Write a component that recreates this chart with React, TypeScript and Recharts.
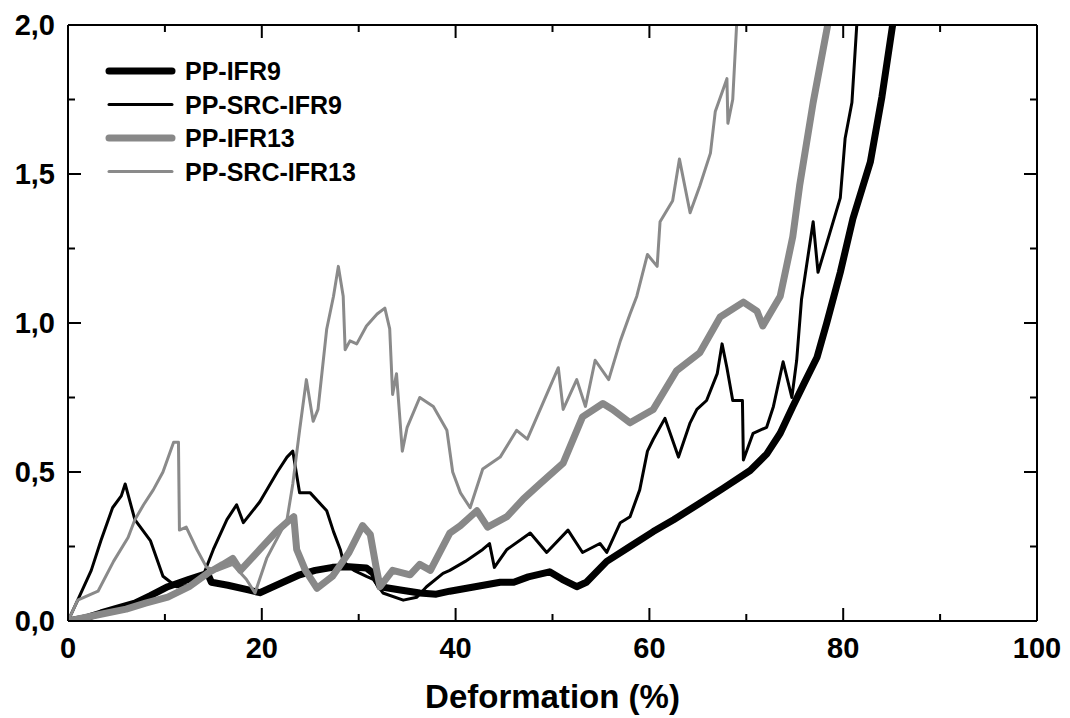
import { Line, LineChart, XAxis, YAxis } from 'recharts';

// values: [deformation %, y]
const ppIfr9: [number, number][] = [
  [0, 0], [2, 0.012], [3.4, 0.027], [5, 0.042], [6.9, 0.06], [8.5, 0.085], [10.3, 0.115],
  [12.5, 0.14], [14.4, 0.16], [14.8, 0.13], [16.5, 0.12], [18.5, 0.105], [19.8, 0.095],
  [21.5, 0.12], [23.9, 0.155], [25.5, 0.17], [27.3, 0.18], [29, 0.182], [30.8, 0.178],
  [31.5, 0.16], [32.2, 0.115], [33.5, 0.108], [34.3, 0.104], [36.3, 0.094], [38, 0.09],
  [39.4, 0.1], [42, 0.115], [44.6, 0.13], [46, 0.13], [47.5, 0.148], [49.7, 0.165],
  [51, 0.14], [52.5, 0.115], [53.5, 0.13], [55.6, 0.2], [58, 0.25], [60.4, 0.3],
  [62.5, 0.34], [65.2, 0.395], [67.6, 0.445], [70.4, 0.505], [72.1, 0.56], [73.5, 0.63],
  [74.8, 0.72], [76, 0.8], [77.3, 0.885], [78.3, 1.0], [79.7, 1.17], [81, 1.35],
  [82.8, 1.54], [84, 1.76], [85.1, 2.0],
];

const ppSrcIfr9: [number, number][] = [
  [0, 0], [1, 0.07], [2.4, 0.17], [3.4, 0.27], [4.6, 0.38], [5.5, 0.42], [5.9, 0.46],
  [6.9, 0.34], [8.5, 0.27], [9.8, 0.15], [11.2, 0.115], [12.5, 0.12], [13.8, 0.14],
  [15, 0.24], [16.4, 0.34], [17.4, 0.39], [18.1, 0.33], [19.8, 0.4], [21.6, 0.5],
  [22.6, 0.55], [23.2, 0.57], [23.9, 0.43], [25, 0.43], [26.7, 0.37], [27.4, 0.3],
  [28.1, 0.24], [28.4, 0.2], [29.5, 0.17], [30.8, 0.15], [31.5, 0.14], [32.5, 0.094],
  [34.6, 0.07], [36, 0.08], [37, 0.115], [38.7, 0.16], [39.4, 0.17], [41, 0.2],
  [42.8, 0.24], [43.5, 0.26], [44, 0.18], [45.3, 0.24], [47.7, 0.295], [49.4, 0.23],
  [51.6, 0.305], [53.1, 0.23], [54.9, 0.26], [55.6, 0.23], [57, 0.33], [58, 0.35],
  [59, 0.44], [59.8, 0.57], [60.4, 0.61], [61.6, 0.68], [63, 0.55], [64.2, 0.665],
  [64.9, 0.71], [65.9, 0.74], [67, 0.83], [67.5, 0.93], [68, 0.85], [68.6, 0.74],
  [69.6, 0.74], [69.7, 0.54], [70.7, 0.63], [72.1, 0.65], [72.8, 0.72], [73.8, 0.87],
  [74.7, 0.75], [75.2, 0.875], [75.7, 1.08], [76.9, 1.34], [77.4, 1.17], [78.6, 1.3],
  [79.7, 1.42], [80.2, 1.62], [80.9, 1.74], [81.4, 2.0],
];

const ppIfr13: [number, number][] = [
  [0, 0], [3, 0.02], [6, 0.04], [8, 0.06], [10.3, 0.08], [12.5, 0.115], [14.4, 0.16],
  [16, 0.19], [17, 0.21], [17.8, 0.17], [19.8, 0.24], [21.5, 0.3], [22.9, 0.34],
  [23.3, 0.35], [23.6, 0.24], [24.5, 0.17], [25.7, 0.11], [27.3, 0.15], [29, 0.23],
  [30.4, 0.32], [31.2, 0.29], [31.8, 0.18], [32.2, 0.115], [33.5, 0.17], [35.3, 0.155],
  [36.3, 0.19], [37.4, 0.17], [39.4, 0.295], [40.5, 0.32], [42.2, 0.37], [43.3, 0.315],
  [45.3, 0.35], [47, 0.41], [48.7, 0.46], [51.1, 0.53], [53.1, 0.685], [55.2, 0.73],
  [56.2, 0.71], [58, 0.665], [60.4, 0.71], [62.8, 0.84], [65.2, 0.9], [67.3, 1.02],
  [69.7, 1.07], [71.1, 1.04], [71.7, 0.99], [73.5, 1.09], [74.8, 1.29], [75.5, 1.46],
  [76.9, 1.74], [78.4, 2.0],
];

const ppSrcIfr13: [number, number][] = [
  [0, 0], [1, 0.07], [3.1, 0.1], [4.7, 0.2], [6.2, 0.28], [6.9, 0.34], [7.8, 0.39],
  [8.8, 0.44], [9.8, 0.5], [10.9, 0.6], [11.4, 0.6], [11.5, 0.305], [12.2, 0.315],
  [13.3, 0.24], [14.3, 0.18], [15.4, 0.17], [17, 0.19], [18.4, 0.14], [19.3, 0.094],
  [20.5, 0.21], [22.6, 0.34], [23.2, 0.46], [23.9, 0.64], [24.6, 0.81], [25, 0.73],
  [25.3, 0.67], [25.8, 0.71], [26.7, 0.98], [27.4, 1.09], [27.9, 1.19], [28.4, 1.09],
  [28.6, 0.91], [29.1, 0.94], [29.8, 0.93], [30.8, 0.99], [31.9, 1.03], [32.7, 1.05],
  [33.2, 0.98], [33.5, 0.76], [33.9, 0.83], [34.5, 0.57], [35, 0.65], [36.3, 0.75],
  [37.7, 0.72], [39.1, 0.64], [39.7, 0.5], [40.5, 0.43], [41.5, 0.38], [42.8, 0.51],
  [44.6, 0.55], [46.3, 0.64], [47.4, 0.61], [49, 0.73], [50.6, 0.85], [51.1, 0.71],
  [52.5, 0.81], [53.4, 0.72], [54.4, 0.875], [55.8, 0.81], [57, 0.94], [58, 1.03],
  [58.7, 1.09], [59.8, 1.23], [60.8, 1.19], [61.1, 1.34], [62.4, 1.41], [63.1, 1.55],
  [64.2, 1.37], [65.2, 1.46], [66.3, 1.57], [66.8, 1.71], [68, 1.82], [68.1, 1.67],
  [68.6, 1.75], [69, 2.0],
];

const xTicks = [0, 10, 20, 30, 40, 50, 60, 70, 80, 90, 100];
const yTicks = [0, 0.25, 0.5, 0.75, 1, 1.25, 1.5, 1.75, 2];

const series = [
  { name: 'PP-IFR9', points: ppIfr9, color: '#000000', width: 7 },
  { name: 'PP-SRC-IFR9', points: ppSrcIfr9, color: '#000000', width: 3 },
  { name: 'PP-IFR13', points: ppIfr13, color: '#888888', width: 7 },
  { name: 'PP-SRC-IFR13', points: ppSrcIfr13, color: '#8a8a8a', width: 3 },
];

const FONT = '"Liberation Sans", Arial, Helvetica, sans-serif';
const isMajorX = (v: number) => v % 20 === 0;
const isMajorY = (v: number) => Math.abs(v * 2 - Math.round(v * 2)) < 1e-6;

const BottomTick = ({ x, y, payload }: any) => {
  const major = isMajorX(payload.value);
  return (
    <g>
      <line x1={x} y1={y} x2={x} y2={y - (major ? 13 : 7)} stroke="#000" strokeWidth={2} />
      {major && (
        <text x={x} y={y + 37} textAnchor="middle" fontFamily={FONT} fontWeight="bold" fontSize={29} fill="#000">
          {payload.value}
        </text>
      )}
    </g>
  );
};

const TopTick = ({ x, y, payload }: any) => {
  const major = isMajorX(payload.value);
  return <line x1={x} y1={y} x2={x} y2={y + (major ? 13 : 7)} stroke="#000" strokeWidth={2} />;
};

const LeftTick = ({ x, y, payload }: any) => {
  const major = isMajorY(payload.value);
  return (
    <g>
      <line x1={x} y1={y} x2={x + (major ? 13 : 7)} y2={y} stroke="#000" strokeWidth={2} />
      {major && (
        <text x={x - 13} y={y + 10} textAnchor="end" fontFamily={FONT} fontWeight="bold" fontSize={29} fill="#000">
          {payload.value.toFixed(1).replace('.', ',')}
        </text>
      )}
    </g>
  );
};

const RightTick = ({ x, y, payload }: any) => {
  const major = isMajorY(payload.value);
  return <line x1={x} y1={y} x2={x - (major ? 13 : 7)} y2={y} stroke="#000" strokeWidth={2} />;
};

function ChartLegend() {
  return (
    <svg width={300} height={150} style={{ position: 'absolute', left: 100, top: 50 }}>
      {series.map((s, i) => (
        <g key={s.name}>
          <line x1={9} x2={72} y1={21 + i * 33.5} y2={21 + i * 33.5} stroke={s.color} strokeWidth={s.width} strokeLinecap="round" />
          <text x={85} y={30 + i * 33.5} fontFamily={FONT} fontWeight="bold" fontSize={25} fill="#000">
            {s.name}
          </text>
        </g>
      ))}
    </svg>
  );
}

export default function App() {
  return (
    <div style={{ position: 'absolute', left: 0, top: 0, width: 1070, height: 718, background: '#fff' }}>
      <LineChart width={1070} height={718} margin={{ top: 20, right: 28, bottom: 7, left: 8 }}>
        <XAxis
          xAxisId={0}
          type="number"
          dataKey="x"
          domain={[0, 100]}
          ticks={xTicks}
          tickSize={0}
          tickMargin={0}
          height={90}
          axisLine={{ stroke: '#000', strokeWidth: 2 }}
          tickLine={false}
          tick={<BottomTick />}
          interval={0}
          allowDataOverflow
          label={{
            value: 'Deformation (%)',
            position: 'insideBottom',
            offset: 3,
            style: { fontFamily: FONT, fontWeight: 'bold', fontSize: 33, fill: '#000' },
          }}
        />
        <XAxis
          xAxisId="top"
          orientation="top"
          type="number"
          dataKey="x"
          domain={[0, 100]}
          ticks={xTicks}
          tickSize={0}
          tickMargin={0}
          height={5}
          axisLine={{ stroke: '#000', strokeWidth: 2 }}
          tickLine={false}
          tick={<TopTick />}
          interval={0}
          allowDataOverflow
        />
        <YAxis
          yAxisId={0}
          type="number"
          domain={[0, 2]}
          ticks={yTicks}
          tickSize={0}
          tickMargin={0}
          width={60}
          axisLine={{ stroke: '#000', strokeWidth: 2 }}
          tickLine={false}
          tick={<LeftTick />}
          interval={0}
          allowDataOverflow
        />
        <YAxis
          yAxisId="right"
          orientation="right"
          type="number"
          domain={[0, 2]}
          ticks={yTicks}
          tickSize={0}
          tickMargin={0}
          width={5}
          axisLine={{ stroke: '#000', strokeWidth: 2 }}
          tickLine={false}
          tick={<RightTick />}
          interval={0}
          allowDataOverflow
        />
        {series.map((s) => (
          <Line
            key={s.name}
            name={s.name}
            data={s.points.map(([x, y]) => ({ x, y }))}
            dataKey="y"
            type="linear"
            stroke={s.color}
            strokeWidth={s.width}
            strokeLinejoin="round"
            dot={false}
            isAnimationActive={false}
          />
        ))}
      </LineChart>
      <ChartLegend />
    </div>
  );
}
